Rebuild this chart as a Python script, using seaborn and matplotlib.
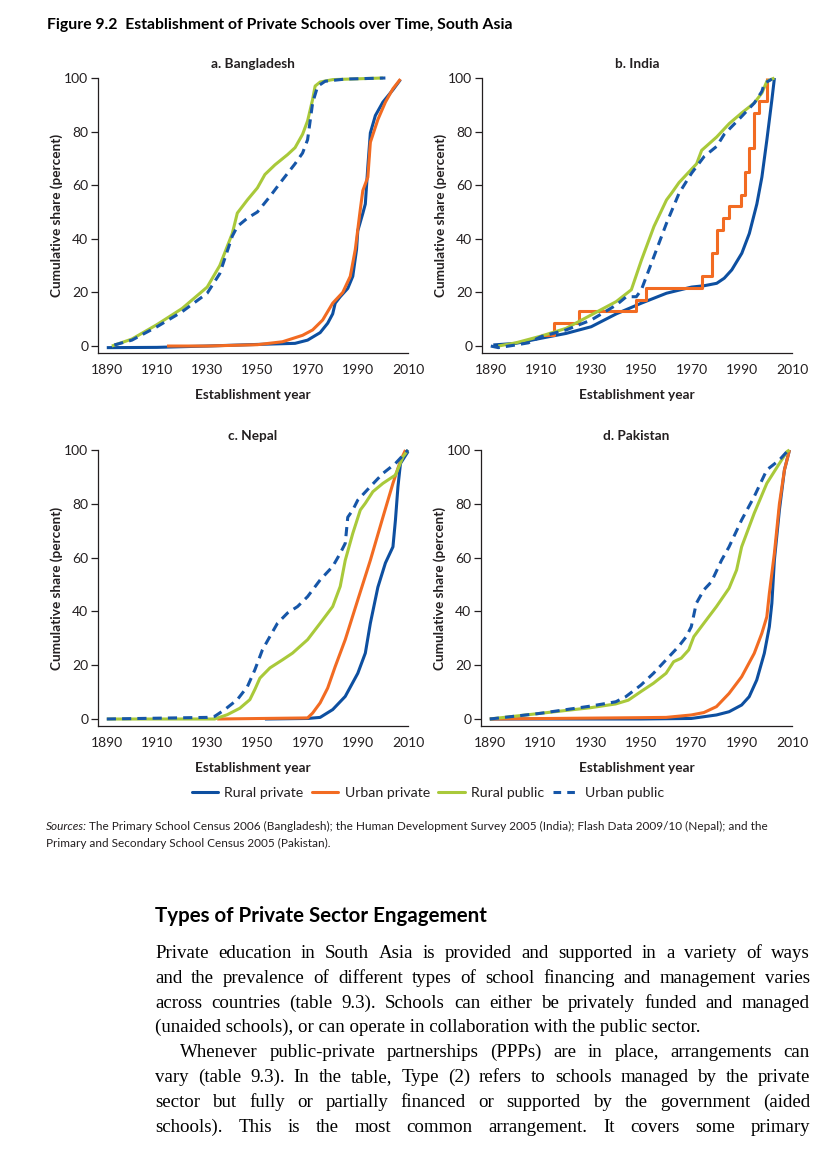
import numpy as np
import pandas as pd
import matplotlib
matplotlib.use("Agg")
import matplotlib.pyplot as plt
import seaborn as sns
from matplotlib.lines import Line2D

# ---------------- data ----------------
series_names = ["Rural private", "Urban private", "Rural public", "Urban public"]
panel_titles = ["a. Bangladesh", "b. India", "c. Nepal", "d. Pakistan"]
x_ticks = [1890, 1910, 1930, 1950, 1970, 1990, 2010]
y_ticks = [0, 20, 40, 60, 80, 100]

# a. Bangladesh
bgd_rural_private_x = [1890, 1910, 1930, 1950, 1965, 1970, 1975, 1978, 1980, 1981, 1983, 1986, 1988, 1989.5, 1990, 1992, 1993, 1994, 1995, 1997, 2000, 2004, 2007]
bgd_rural_private_y = [-0.6, -0.5, 0, 0.6, 1, 2.2, 5, 8.5, 12, 16, 18.4, 21.5, 26, 36, 43, 49.5, 53, 67, 79.5, 86, 91, 95.6, 99.4]
bgd_urban_private_x = [1914, 1930, 1950, 1960, 1968, 1972, 1976, 1980, 1984, 1987, 1989, 1991, 1992, 1994, 1995, 1998, 2001, 2004, 2007]
bgd_urban_private_y = [0, 0, 0.5, 1.6, 4, 6, 9.7, 16, 20, 26, 36, 51, 58, 63, 76, 84.5, 91, 96, 99.6]
bgd_rural_public_x = [1892, 1900, 1910, 1920, 1930, 1935, 1940, 1942, 1946, 1950, 1953, 1957, 1962, 1965, 1968, 1970, 1972, 1973, 1975, 1980, 1990, 2000]
bgd_rural_public_y = [0, 2.6, 8, 14, 22, 30, 42, 49.6, 54.5, 59, 64, 67.6, 71.4, 74, 79, 84, 92, 97, 98.5, 99.4, 99.7, 100]
bgd_urban_public_x = [1893, 1900, 1910, 1920, 1930, 1935, 1940, 1942, 1946, 1950, 1955, 1960, 1965, 1968, 1970, 1972, 1974, 1977, 1985, 2001]
bgd_urban_public_y = [0.4, 2.2, 7.2, 12.8, 19.7, 27, 41, 44.6, 47.7, 50, 55.8, 62, 68, 72, 77, 90.7, 96.9, 98.8, 99.6, 100]

# b. India (urban private is a step series)
ind_rural_private_x = [1891, 1900, 1910, 1920, 1930, 1940, 1950, 1960, 1970, 1975, 1980, 1983, 1986, 1990, 1993, 1996, 1998, 2000, 2002, 2003]
ind_rural_private_y = [0.4, 1, 2.9, 4.7, 7.2, 12, 16, 19.7, 22, 22.5, 23.4, 25.3, 28.4, 34.6, 42, 53, 63, 77, 92, 100]
ind_urban_private_x = [1910, 1915, 1925, 1948, 1952, 1974, 1978, 1980, 1982.6, 1985, 1989.6, 1991.2, 1993, 1995, 1997, 2000]
ind_urban_private_y = [4.2, 8.7, 13, 17, 21.7, 26, 34.6, 43.4, 47.6, 52.3, 56.4, 65, 73.8, 87, 91.3, 100]
ind_rural_public_x = [1893, 1900, 1910, 1920, 1930, 1940, 1946, 1950, 1955, 1960, 1962, 1965, 1970, 1972, 1974, 1980, 1985, 1990, 1995, 1998, 2000, 2003]
ind_rural_public_y = [0, 1.2, 3.7, 6.6, 11.6, 16.6, 21, 32, 44.6, 54.5, 57, 61, 66, 68, 73, 78, 83, 87, 90.7, 94.4, 98.8, 100]
ind_urban_public_x = [1890, 1893, 1900, 1905, 1910, 1920, 1930, 1940, 1944, 1948, 1950, 1955, 1960, 1965, 1970, 1975, 1980, 1983, 1990, 1995, 1998, 1999, 2002]
ind_urban_public_y = [0, -0.6, 0.4, 1.2, 3.5, 6, 9.7, 15.3, 18.4, 18.4, 21, 33.4, 45.8, 57, 64.5, 70.7, 74.5, 79, 85.7, 90.7, 95, 98, 99.6]

# c. Nepal
npl_rural_private_x = [1953, 1970, 1975, 1980, 1985, 1990, 1993, 1995, 1998, 2001, 2004, 2005, 2006, 2007, 2010]
npl_rural_private_y = [0, 0.2, 0.6, 3.5, 8.4, 17, 24.5, 35.6, 49, 58, 64, 74, 86.4, 95, 99.4]
npl_urban_private_x = [1934, 1970, 1972, 1975, 1978, 1981, 1985, 1990, 1995, 2000, 2004, 2007, 2009]
npl_urban_private_y = [0, 0.4, 2.2, 6, 11.5, 19.5, 29.5, 44.3, 59, 75, 87.6, 96, 100]
npl_rural_public_x = [1890, 1933, 1938, 1943, 1947, 1949, 1951, 1955, 1960, 1964, 1970, 1975, 1980, 1983, 1985, 1988, 1991, 1993, 1996, 2000, 2005, 2008, 2010]
npl_rural_public_y = [0, 0, 1.6, 4, 7.2, 11, 15.2, 19, 22, 24.5, 29.5, 35.6, 41.8, 49.3, 59, 69, 77.7, 80.2, 84.5, 87.6, 90.7, 97.5, 100]
npl_urban_public_x = [1890, 1930, 1933, 1937, 1942, 1946, 1949, 1952, 1955, 1958, 1962, 1966, 1970, 1975, 1980, 1983, 1985, 1986, 1988, 1990, 1995, 2000, 2005, 2010]
npl_urban_public_y = [0, 0.6, 1, 3.5, 7.2, 12, 18.3, 25.7, 30.7, 35.6, 39.4, 41.8, 45.5, 51.7, 56.7, 61.6, 65.3, 75, 77.7, 81.4, 86.4, 91.3, 95, 100]

# d. Pakistan
pak_rural_private_x = [1890, 1950, 1970, 1980, 1985, 1990, 1993, 1996, 1999, 2001, 2002, 2003, 2005, 2007, 2009]
pak_rural_private_y = [0, 0, 0.2, 1.5, 2.7, 5.2, 8.3, 14.5, 24.4, 34.3, 43, 59, 77.7, 92.6, 100]
pak_urban_private_x = [1890, 1950, 1960, 1970, 1975, 1980, 1985, 1990, 1995, 1998, 2000, 2001, 2003, 2005, 2007, 2009]
pak_urban_private_y = [0, 0.5, 0.6, 1.5, 2.4, 4.6, 9.5, 15.7, 24.4, 31.8, 38, 46.7, 61.6, 80, 92.6, 100]
pak_rural_public_x = [1890, 1910, 1930, 1940, 1945, 1950, 1955, 1960, 1963, 1966, 1969, 1971, 1975, 1980, 1985, 1988, 1990, 1995, 2000, 2005, 2008, 2009]
pak_rural_public_y = [0, 2.1, 4.2, 5.6, 7, 10.2, 13.3, 17, 21.3, 22.6, 25.7, 30.6, 35.6, 41.8, 48.6, 55.4, 64, 76.5, 87.6, 95, 99.4, 100]
pak_urban_public_x = [1890, 1910, 1930, 1940, 1944, 1950, 1955, 1960, 1965, 1968, 1970, 1972, 1975, 1978, 1982, 1985, 1990, 1995, 2000, 2005, 2008]
pak_urban_public_y = [0, 2.1, 4.8, 6.4, 8.3, 12.6, 17, 22, 27, 30.6, 34.3, 43, 48, 51, 59, 64, 74, 82.7, 92.6, 96.3, 99.4]

panels = [
    [(bgd_rural_private_x, bgd_rural_private_y), (bgd_urban_private_x, bgd_urban_private_y),
     (bgd_rural_public_x, bgd_rural_public_y), (bgd_urban_public_x, bgd_urban_public_y)],
    [(ind_rural_private_x, ind_rural_private_y), (ind_urban_private_x, ind_urban_private_y),
     (ind_rural_public_x, ind_rural_public_y), (ind_urban_public_x, ind_urban_public_y)],
    [(npl_rural_private_x, npl_rural_private_y), (npl_urban_private_x, npl_urban_private_y),
     (npl_rural_public_x, npl_rural_public_y), (npl_urban_public_x, npl_urban_public_y)],
    [(pak_rural_private_x, pak_rural_private_y), (pak_urban_private_x, pak_urban_private_y),
     (pak_rural_public_x, pak_rural_public_y), (pak_urban_public_x, pak_urban_public_y)],
]

fig_title = "Figure 9.2  Establishment of Private Schools over Time, South Asia"
sources_label = "Sources:"
sources_lines = ["The Primary School Census 2006 (Bangladesh); the Human Development Survey 2005 (India); Flash Data 2009/10 (Nepal); and the",
                 "Primary and Secondary School Census 2005 (Pakistan)."]
heading = "Types of Private Sector Engagement"
body_lines = [
    ("Private education in South Asia is provided and supported in a variety of ways", True, False),
    ("and the prevalence of different types of school financing and management varies", True, False),
    ("across countries (table 9.3). Schools can either be privately funded and managed", True, False),
    ("(unaided schools), or can operate in collaboration with the public sector.", False, False),
    ("Whenever public-private partnerships (PPPs) are in place, arrangements can", True, True),
    ("vary (table 9.3). In the table, Type (2) refers to schools managed by the private", True, False),
    ("sector but fully or partially financed or supported by the government (aided", True, False),
    ("schools). This is the most common arrangement. It covers some primary", True, False),
]

# ---------------- style ----------------
sns.set_theme(style="white")
SANS = ["Lato", "DejaVu Sans"]
SERIF = ["Liberation Serif", "DejaVu Serif"]
plt.rcParams["font.family"] = SANS
TXT = "#231f20"
colors = ["#0d4fa0", "#f26b22", "#a9c93a", "#1656a8"]

W, H = 840, 1164
fig = plt.figure(figsize=(W / 100, H / 100), dpi=100)
fig.patch.set_facecolor("white")

def axes_px(l, t, r, b):
    return fig.add_axes([l / W, 1 - b / H, (r - l) / W, (b - t) / H])

boxes = [(98, 78, 408, 353), (482, 78, 792, 353), (98, 450, 408, 726), (481, 450, 792, 726)]

for i, (box, series) in enumerate(zip(boxes, panels)):
    ax = axes_px(*box)
    for j, (xs, ys) in enumerate(series):
        df = pd.DataFrame({"year": xs, "share": ys})
        extra = {}
        if i == 1 and j == 1:
            extra["drawstyle"] = "steps-post"
        sns.lineplot(data=df, x="year", y="share", ax=ax, color=colors[j], lw=2.2,
                     sort=False, estimator=None, legend=False, clip_on=False,
                     solid_capstyle="butt", zorder=3 + j, **extra)
        if j == 3:
            ax.lines[-1].set_dashes((3.0, 2.0))
    ax.set_xlim(1886.5, 2010)
    ax.set_ylim(-2.6, 100)
    ax.set_xticks(x_ticks)
    ax.set_yticks(y_ticks)
    for s in ["top", "right"]:
        ax.spines[s].set_visible(False)
    for s in ["left", "bottom"]:
        ax.spines[s].set_color(TXT)
        ax.spines[s].set_linewidth(0.9)
    ax.tick_params(axis="y", direction="out", length=5, width=0.9, color=TXT,
                   labelsize=10, labelcolor=TXT, pad=2, left=True)
    ax.tick_params(axis="x", length=0, labelsize=10, labelcolor=TXT, pad=8, bottom=True)
    ax.set_xlabel("Establishment year", fontsize=9.8, fontweight="bold", color=TXT, labelpad=9)
    ax.set_ylabel("Cumulative share (percent)", fontsize=9.8, fontweight="bold", color=TXT, labelpad=1)
    ax.set_title(panel_titles[i], fontsize=9.8, fontweight="bold", color=TXT, pad=7)
    ax.grid(False)

# legend
handles = []
for j, name in enumerate(series_names):
    h = Line2D([], [], color=colors[j], lw=2.2, label=name)
    if j == 3:
        h.set_dashes((2.5, 2.0))
    handles.append(h)
fig.legend(handles=handles, loc="center", bbox_to_anchor=(428 / W, 1 - 793 / H), ncol=4,
           frameon=False, fontsize=10.2, handlelength=1.85, handletextpad=0.45,
           columnspacing=0.6, labelcolor=TXT)

# ---------------- text helpers ----------------
renderer = fig.canvas.get_renderer()

def ftext(x, y, s, **kw):
    return fig.text(x / W, 1 - y / H, s, va="baseline", ha="left", **kw)

def width_px(t):
    return t.get_window_extent(renderer=renderer).width

def fit_size(s, target, base, **kw):
    t = ftext(0, 0, s, fontsize=base, **kw)
    w = width_px(t)
    t.remove()
    return base * target / w

# figure title
ts = fit_size(fig_title, 464, 10, fontweight="bold", family=SANS)
ftext(47, 29.5, fig_title, fontsize=ts, fontweight="bold", color="black", family=SANS)

# sources
ss = fit_size(sources_label + " " + sources_lines[0], 726, 8.5, family=SANS)
t0 = ftext(46, 830, sources_label, fontsize=ss, style="italic", color=TXT, family=SANS)
w0 = width_px(t0)
ftext(46 + w0 + 2, 830, sources_lines[0], fontsize=ss, color=TXT, family=SANS)
ftext(46, 847, sources_lines[1], fontsize=ss, color=TXT, family=SANS)

# heading
hs = fit_size(heading, 331, 13, fontweight="bold", family=SANS)
ftext(155, 921.5, heading, fontsize=hs, fontweight="bold", color="black", family=SANS)

# body (justified)
bs = fit_size(body_lines[3][0], 543, 13, family=SERIF)
x_left, x_right = 155, 810
for k, (line, justify, indent) in enumerate(body_lines):
    y = 958 + 24.8 * k
    x0 = x_left + (25 if indent else 0)
    if not justify:
        ftext(x0, y, line, fontsize=bs, color="black", family=SERIF)
        continue
    words = line.split(" ")
    objs = [ftext(0, y, w, fontsize=bs, color="black", family=SERIF) for w in words]
    widths = [width_px(o) for o in objs]
    gap = (x_right - x0 - sum(widths)) / (len(words) - 1)
    x = x0
    for o, w in zip(objs, widths):
        o.set_x(x / W)
        x += w + gap

fig.savefig("out.png", dpi=100, facecolor="white")
